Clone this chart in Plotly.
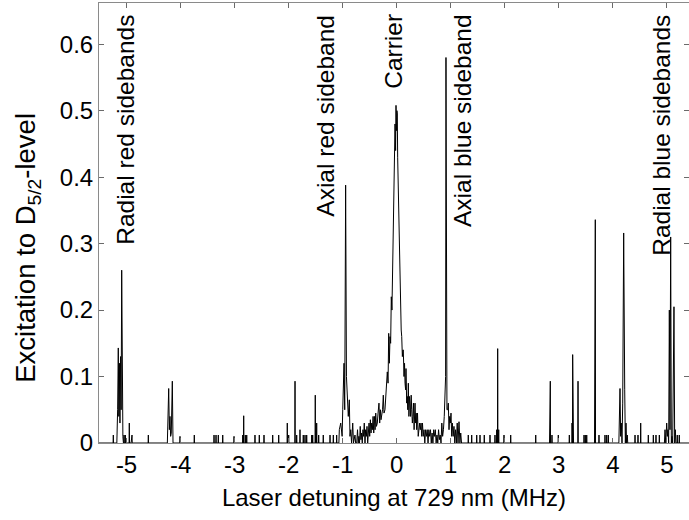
import plotly.graph_objects as go

# ---------------- data ----------------
# isolated narrow lines: detuning (MHz) and excitation
spike_detuning = [
    -5.245, -5.047, -5.023, -4.949, -4.912, -4.899, -4.597, -4.011, -3.746,
    -3.381, -3.344, -3.302, -3.220, -3.011, -2.850, -2.832, -2.802, -2.776,
    -2.623, -2.543, -2.456, -2.295, -2.184, -2.025, -1.999, -1.882, -1.851,
    -1.790, -1.729, -1.697, -1.666, -1.573, -1.555, -1.507, -1.481, -1.444,
    -1.359, -1.234, -1.173, -1.111,
    1.325, 1.388, 1.481, 1.542, 1.621, 1.727, 1.819, 1.851, 1.869, 1.888,
    1.986, 2.110, 2.573, 2.832, 2.843, 2.874, 2.991, 3.195, 3.245, 3.257,
    3.269, 3.356, 3.467, 3.491, 3.517, 3.665, 3.676, 3.744, 3.855, 3.887,
    3.917, 4.411, 4.466, 4.516, 4.657, 4.750, 4.799, 4.861, 5.193, 5.230,
]
spike_excitation = [
    0.012, 0.012, 0.012, 0.030, 0.012, 0.012, 0.012, 0.010, 0.012,
    0.012, 0.012, 0.012, 0.012, 0.010, 0.012, 0.041, 0.012, 0.012,
    0.012, 0.012, 0.012, 0.012, 0.012, 0.030, 0.012, 0.093, 0.012,
    0.020, 0.012, 0.012, 0.012, 0.012, 0.012, 0.072, 0.030, 0.012,
    0.012, 0.012, 0.012, 0.012,
    0.012, 0.012, 0.012, 0.012, 0.012, 0.012, 0.012, 0.020, 0.142, 0.020,
    0.012, 0.012, 0.012, 0.040, 0.093, 0.012, 0.012, 0.012, 0.030, 0.133,
    0.030, 0.093, 0.012, 0.012, 0.012, 0.100, 0.336, 0.012, 0.012, 0.012,
    0.012, 0.012, 0.012, 0.030, 0.012, 0.012, 0.012, 0.012, 0.012, 0.012,
]

# contiguous (resolved) features
radial_red_detuning = [-5.180, -5.165, -5.153, -5.143, -5.133, -5.122, -5.112,
                       -5.100, -5.090, -5.080, -5.068, -5.058]
radial_red_excitation = [0.0, 0.05, 0.143, 0.04, 0.12, 0.03, 0.13,
                         0.05, 0.26, 0.03, 0.01, 0.0]

second_red_detuning = [-4.245, -4.233, -4.220, -4.208, -4.196, -4.184,
                       -4.172, -4.153, -4.140]
second_red_excitation = [0.0, 0.03, 0.082, 0.02, 0.04, 0.01, 0.015, 0.093, 0.0]

carrier_detuning = [
    -1.070, -1.062, -1.036, -1.010, -0.999, -0.975, -0.962, -0.945, -0.930,
    -0.914, -0.896, -0.877, -0.865, -0.851, -0.835, -0.814, -0.800, -0.772,
    -0.760,
    -0.740, -0.725, -0.712, -0.700, -0.688, -0.675, -0.662, -0.650, -0.637,
    -0.625, -0.612, -0.600, -0.587, -0.575, -0.562, -0.550, -0.537, -0.525,
    -0.512, -0.500, -0.487, -0.475, -0.463, -0.450, -0.437, -0.425, -0.412,
    -0.400, -0.388, -0.375, -0.359, -0.345, -0.328, -0.315, -0.300, -0.290,
    -0.278, -0.262, -0.248, -0.235, -0.217, -0.200, -0.185, -0.174, -0.160,
    -0.148, -0.136, -0.124, -0.112, -0.100, -0.088, -0.075, -0.063, -0.052,
    -0.044, -0.031, -0.020, -0.013, -0.005, 0.004, 0.011, 0.018, 0.024,
    0.033, 0.043, 0.052, 0.061, 0.072, 0.083, 0.093, 0.105, 0.115, 0.122,
    0.135, 0.145, 0.154, 0.165, 0.172, 0.185, 0.196, 0.205, 0.215, 0.226,
    0.237, 0.246, 0.257, 0.268, 0.278, 0.290, 0.300, 0.310, 0.322, 0.339,
    0.350, 0.361, 0.370, 0.385, 0.398, 0.411, 0.425, 0.437, 0.451, 0.463,
    0.477, 0.490, 0.505, 0.520, 0.535, 0.550, 0.565, 0.580, 0.595, 0.610,
    0.625, 0.640, 0.655, 0.670, 0.685, 0.700, 0.715, 0.730, 0.745, 0.760,
    0.775, 0.790, 0.805, 0.820, 0.835, 0.850, 0.865, 0.880, 0.893, 0.905,
    0.912, 0.920, 0.930, 0.944, 0.955, 0.968, 0.980, 0.992, 1.005, 1.018,
    1.030, 1.045, 1.060, 1.075, 1.090, 1.105, 1.120, 1.135, 1.153, 1.170,
    1.185, 1.200,
]
carrier_excitation = [
    0.0, 0.02, 0.03, 0.01, 0.05, 0.12, 0.05, 0.388, 0.10,
    0.06, 0.04, 0.065, 0.01, 0.02, 0.0, 0.03, 0.0, 0.012,
    0.0,
    0.0, 0.02, 0.0, 0.01, 0.0, 0.025, 0.005, 0.015, 0.0,
    0.02, 0.01, 0.03, 0.0, 0.02, 0.01, 0.025, 0.0, 0.015,
    0.03, 0.01, 0.035, 0.015, 0.03, 0.02, 0.04, 0.015, 0.04,
    0.02, 0.045, 0.025, 0.03, 0.045, 0.06, 0.03, 0.05, 0.035,
    0.04, 0.05, 0.072, 0.045, 0.05, 0.07, 0.08, 0.107, 0.09,
    0.165, 0.12, 0.16, 0.15, 0.22, 0.20, 0.27, 0.29, 0.36,
    0.415, 0.48, 0.44, 0.508, 0.47, 0.50, 0.495, 0.43, 0.406,
    0.33, 0.30, 0.26, 0.215, 0.19, 0.17, 0.16, 0.13, 0.14, 0.14,
    0.10, 0.12, 0.09, 0.08, 0.112, 0.06, 0.07, 0.05, 0.09, 0.04,
    0.07, 0.06, 0.04, 0.072, 0.05, 0.03, 0.04, 0.06, 0.02, 0.06,
    0.03, 0.045, 0.02, 0.045, 0.01, 0.02, 0.03, 0.02, 0.03, 0.01,
    0.03, 0.01, 0.02, 0.0, 0.02, 0.01, 0.02, 0.0, 0.02, 0.01,
    0.02, 0.0, 0.015, 0.0, 0.02, 0.01, 0.02, 0.0, 0.012, 0.0,
    0.02, 0.005, 0.012, 0.0, 0.03, 0.01, 0.02, 0.04, 0.06, 0.10,
    0.58, 0.10, 0.05, 0.05, 0.06, 0.02, 0.04, 0.03, 0.045, 0.01,
    0.03, 0.01, 0.025, 0.0, 0.02, 0.0, 0.03, 0.0, 0.032, 0.0,
    0.015, 0.0,
]

second_blue_detuning = [4.112, 4.120, 4.133, 4.145, 4.157, 4.170, 4.183,
                        4.201, 4.212, 4.220, 4.232, 4.244, 4.255, 4.268, 4.276]
second_blue_excitation = [0.0, 0.05, 0.082, 0.01, 0.03, 0.0, 0.06,
                          0.316, 0.10, 0.08, 0.0, 0.03, 0.0, 0.012, 0.0]

radial_blue_detuning = [4.955, 4.966, 4.980, 4.997, 5.010, 5.021, 5.034,
                        5.046, 5.058, 5.071, 5.083, 5.095, 5.108, 5.120,
                        5.132, 5.145, 5.157, 5.168]
radial_blue_excitation = [0.0, 0.02, 0.0, 0.03, 0.01, 0.02, 0.0,
                          0.20, 0.02, 0.31, 0.0, 0.01, 0.0, 0.10,
                          0.205, 0.0, 0.02, 0.0]

x_tick_values = [-5, -4, -3, -2, -1, 0, 1, 2, 3, 4, 5]
x_tick_labels = ["-5", "-4", "-3", "-2", "-1", "0", "1", "2", "3", "4", "5"]
y_tick_values = [0, 0.1, 0.2, 0.3, 0.4, 0.5, 0.6]
y_tick_labels = ["0", "0.1", "0.2", "0.3", "0.4", "0.5", "0.6"]

label_texts = ["Radial red sidebands", "Axial red sideband", "Carrier",
               "Axial blue sideband", "Radial blue sidebands"]
label_detuning = [-5.02, -1.32, -0.05, 1.23, 4.91]

x_title = "Laser detuning at 729 nm (MHz)"
y_title = "Excitation to D<sub>5/2</sub>-level"

X_RANGE = [-5.51, 5.41]
Y_RANGE = [0, 0.662]

# ---------------- build the trace ----------------
pts = []
half = 0.004
for xv, yv in zip(spike_detuning, spike_excitation):
    pts += [(xv - half, 0.0), (xv, yv), (xv + half, 0.0)]
for xs, ys in [(radial_red_detuning, radial_red_excitation),
               (second_red_detuning, second_red_excitation),
               (carrier_detuning, carrier_excitation),
               (second_blue_detuning, second_blue_excitation),
               (radial_blue_detuning, radial_blue_excitation)]:
    pts += list(zip(xs, ys))
pts += [(X_RANGE[0], 0.0), (X_RANGE[1], 0.0)]
pts.sort(key=lambda p: p[0])
xs_all = [p[0] for p in pts]
ys_all = [p[1] for p in pts]

fig = go.Figure()
fig.add_trace(go.Scatter(x=xs_all, y=ys_all, mode="lines",
                         line=dict(color="black", width=1),
                         hoverinfo="skip"))

for txt, xv in zip(label_texts, label_detuning):
    fig.add_annotation(x=xv, xref="x", y=0.648, yref="y", text=txt,
                       textangle=-90, showarrow=False, xanchor="center",
                       yanchor="top", font=dict(size=24.5, color="black"))

# y-axis title (placed as a rotated text left of the axis)
fig.add_annotation(x=-0.121, xref="paper", y=0.087, yref="y", text=y_title,
                   textangle=-90, showarrow=False, xanchor="center",
                   yanchor="bottom", font=dict(size=27.5, color="black"))

axis_common = dict(showline=True, linecolor="#8a8a8a", linewidth=1,
                   mirror="ticks", ticks="inside", ticklen=5,
                   tickcolor="#6a6a6a", tickwidth=1, showgrid=False,
                   zeroline=False, tickfont=dict(size=24, color="black"))

fig.update_layout(
    width=689, height=520,
    margin=dict(l=99, r=0, t=3, b=77, pad=0),
    plot_bgcolor="white", paper_bgcolor="white",
    font=dict(family="Liberation Sans, Arial, Helvetica, sans-serif",
              size=24, color="black"),
    showlegend=False,
    xaxis=dict(range=X_RANGE, tickvals=x_tick_values, ticktext=x_tick_labels,
               title=dict(text=x_title, font=dict(size=24), standoff=12),
               **axis_common),
    yaxis=dict(range=Y_RANGE, tickvals=y_tick_values, ticktext=y_tick_labels,
               **axis_common),
)

fig.write_html("out.html")
